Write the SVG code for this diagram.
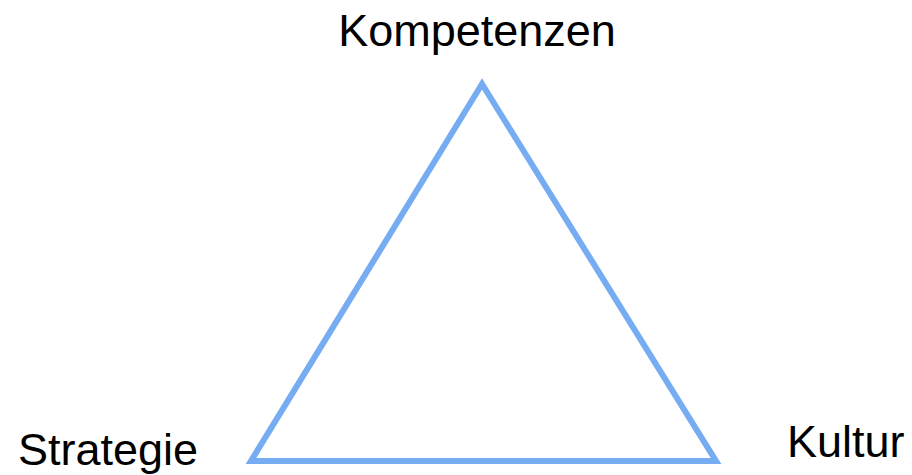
<svg xmlns="http://www.w3.org/2000/svg" width="912" height="475" viewBox="0 0 912 475">
<style>
.lbl{font-family:"Liberation Sans",Arial,sans-serif;font-size:45px;fill:#000}
.edge{fill:none;stroke:#76acf2;stroke-width:6;stroke-linejoin:miter}
</style>
<rect width="912" height="475" fill="#fff"/>
<g id="connectors">
<polygon class="edge" points="482,84 251,461 716,461"/>
</g>
<g id="kompetenzen"><text class="lbl" x="477" y="46" text-anchor="middle">Kompetenzen</text></g>
<g id="strategie"><text class="lbl" x="18" y="465">Strategie</text></g>
<g id="kultur"><text class="lbl" x="787" y="457">Kultur</text></g>
</svg>
